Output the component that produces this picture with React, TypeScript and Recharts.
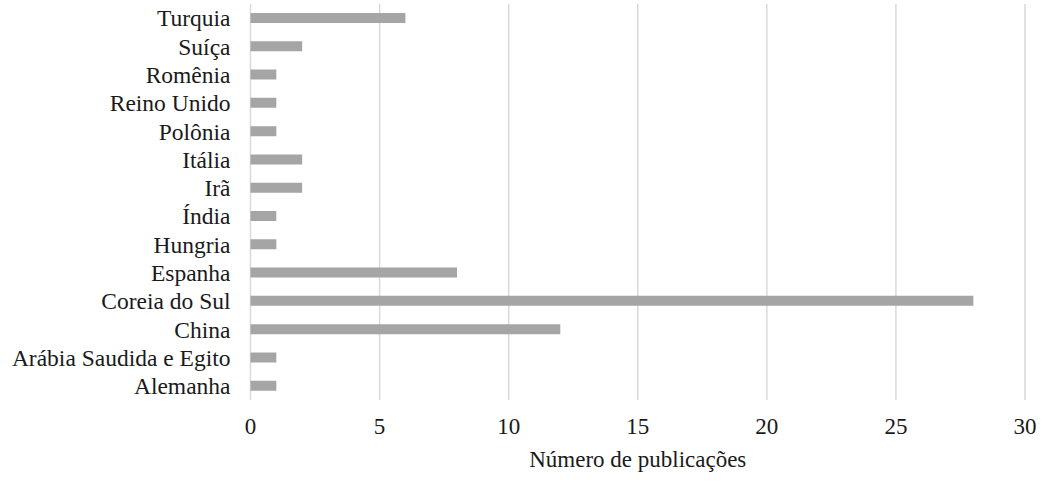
import { Bar, BarChart, CartesianGrid, XAxis, YAxis } from "recharts";

const countries = [
  "Turquia",
  "Suíça",
  "Romênia",
  "Reino Unido",
  "Polônia",
  "Itália",
  "Irã",
  "Índia",
  "Hungria",
  "Espanha",
  "Coreia do Sul",
  "China",
  "Arábia Saudida e Egito",
  "Alemanha",
];
const publications = [6, 2, 1, 1, 1, 2, 2, 1, 1, 8, 28, 12, 1, 1];
const xTicks = [0, 5, 10, 15, 20, 25, 30];

const data = countries.map((country, i) => ({
  country,
  value: publications[i],
}));

const font = "'Liberation Serif', 'Times New Roman', serif";

export default function App() {
  return (
    <div style={{ position: "absolute", left: 0, top: 0, background: "#fff" }}>
      <BarChart
        width={1058}
        height={483}
        data={data}
        layout="vertical"
        margin={{ top: 4, right: 33, left: 0, bottom: 0 }}
        barSize={10}
      >
        <CartesianGrid horizontal={false} stroke="#d9d9d9" strokeWidth={1.5} />
        <XAxis
          type="number"
          domain={[0, 30]}
          ticks={xTicks}
          axisLine={false}
          tickLine={false}
          tickSize={0}
          tickMargin={18}
          height={83}
          tick={{ fill: "#1a1a1a", fontSize: 23, fontFamily: font }}
          label={{
            value: "Número de publicações",
            position: "insideBottom",
            offset: 16,
            fill: "#1a1a1a",
            fontSize: 23,
            fontFamily: font,
          }}
        />
        <YAxis
          type="category"
          dataKey="country"
          width={250.5}
          axisLine={false}
          tickLine={false}
          tickSize={0}
          tickMargin={20}
          interval={0}
          tick={{ fill: "#1a1a1a", fontSize: 23.5, fontFamily: font }}
        />
        <Bar dataKey="value" fill="#a5a5a5" isAnimationActive={false} />
      </BarChart>
    </div>
  );
}
